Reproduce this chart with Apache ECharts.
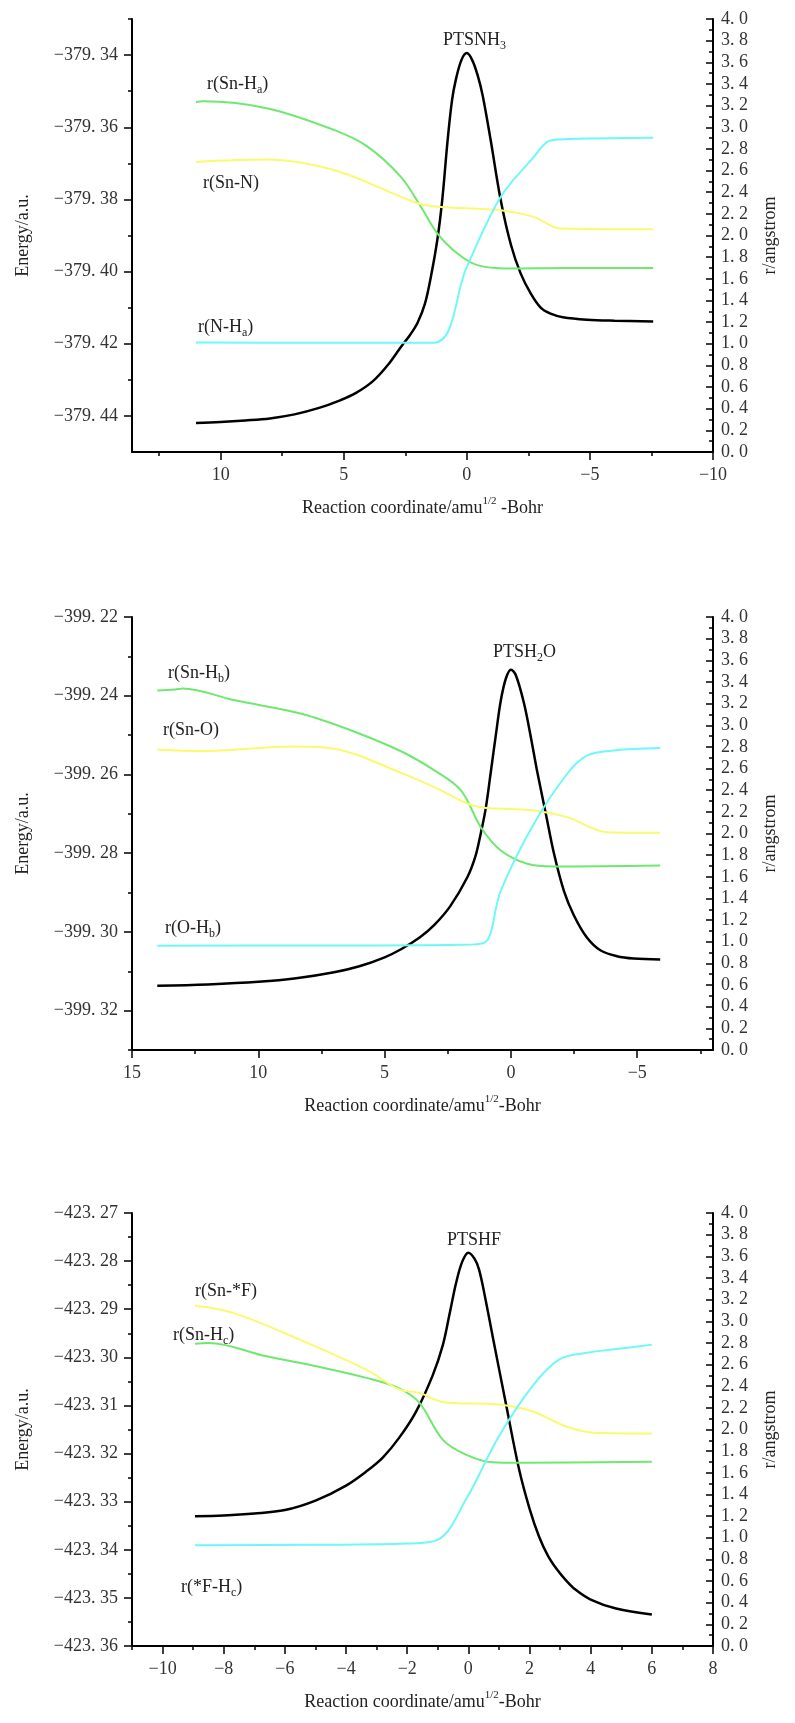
<!DOCTYPE html>
<html>
<head>
<meta charset="utf-8">
<script src="https://cdn.jsdelivr.net/npm/echarts@6/dist/echarts.min.js"></script>
<style>
html, body { margin: 0; padding: 0; background: #fff; }
#chart { width: 795px; height: 1723px; }
</style>
</head>
<body>
<div id="chart"></div>
<script>
// ---- panel 1 : PTSNH3 ----
var p1Energy = [[11.0, -379.44194], [10.0, -379.44167], [9.0, -379.44125], [8.0, -379.44069], [7.0, -379.43958], [6.0, -379.43778],
  [5.2, -379.43583], [4.5, -379.43361], [3.8, -379.43028], [3.2, -379.42583], [2.67, -379.42083], [2.3, -379.41750],
  [2.0, -379.41417], [1.7, -379.40889], [1.45, -379.40111], [1.19, -379.39083], [1.0, -379.38028], [0.78, -379.36361],
  [0.6, -379.35250], [0.45, -379.34694], [0.22, -379.34139], [0, -379.33944], [-0.22, -379.34139], [-0.45, -379.34583],
  [-0.65, -379.35139], [-0.97, -379.36361], [-1.38, -379.38028], [-1.8, -379.39278], [-2.19, -379.40056],
  [-2.6, -379.40611], [-3.0, -379.41000], [-3.4, -379.41167], [-3.9, -379.41264], [-4.88, -379.41333], [-6.0, -379.41361],
  [-7.57, -379.41381]];
var p1SnH = [[11.0, 3.234], [10.7, 3.24], [8.08, 3.174], [5.37, 2.973], [4.02, 2.819], [2.67, 2.54], [1.86, 2.264], [1.19, 2.018],
  [0.38, 1.834], [-0.43, 1.726], [-1.65, 1.695], [-4.0, 1.70], [-7.57, 1.70]];
var p1SnN = [[11.0, 2.68], [8.08, 2.702], [5.37, 2.603], [2.67, 2.357], [1.86, 2.289], [1.05, 2.264], [-1.38, 2.234],
  [-2.72, 2.172], [-3.81, 2.065], [-7.57, 2.058]];
var p1NH = [[11.0, 1.011], [6.0, 1.01], [1.34, 1.01], [0, 1.71], [-1.38, 2.357], [-2.72, 2.726], [-3.27, 2.865], [-3.8, 2.887],
  [-7.57, 2.902]];
var p1XTicks = [10, 5, 0, -5, -10];
var p1XMinor = [12.5, 7.5, 2.5, -2.5, -7.5];
var p1ETicks = [-379.44, -379.42, -379.40, -379.38, -379.36, -379.34];
var p1EMinor = [-379.43, -379.41, -379.39, -379.37, -379.35, -379.33];

// ---- panel 2 : PTSH2O ----
var p2Energy = [[14.0, -399.31366], [12.0, -399.31333], [10.0, -399.31269], [8.5, -399.31180], [7.0, -399.31027], [6.0, -399.30874],
  [5.0, -399.30645], [4.35, -399.30441], [3.6, -399.30135], [3.04, -399.29829], [2.4, -399.29345], [1.72, -399.28606],
  [1.4, -399.28071], [1.19, -399.27485], [1.0, -399.26874], [0.8, -399.25957], [0.6, -399.25014], [0.4, -399.24122],
  [0.2, -399.23562], [0, -399.23340], [-0.2, -399.23485], [-0.52, -399.24199], [-0.8, -399.25091], [-1.05, -399.25957],
  [-1.4, -399.27053], [-1.7, -399.27995], [-2.1, -399.28963], [-2.49, -399.29575], [-3.0, -399.30135], [-3.54, -399.30466],
  [-4.2, -399.30619], [-4.86, -399.30678], [-5.91, -399.30703]];
var p2SnH = [[14.0, 3.32], [13.3, 3.33], [13.0, 3.34], [10.93, 3.23], [8.29, 3.107], [6.32, 2.952], [4.35, 2.76], [3.03, 2.583],
  [1.98, 2.398], [1.19, 2.058], [0.4, 1.843], [-0.65, 1.72], [-1.70, 1.695], [-5.91, 1.704]];
var p2SnO = [[14.0, 2.777], [12.24, 2.761], [8.56, 2.804], [6.98, 2.783], [4.35, 2.56], [3.03, 2.428], [1.72, 2.275], [1.06, 2.238],
  [-0.91, 2.213], [-2.23, 2.151], [-3.81, 2.012], [-5.91, 2.006]];
var p2OH = [[14.0, 0.964], [8.0, 0.965], [2.0, 0.972], [1.06, 0.99], [0.4, 1.473], [-0.91, 2.09], [-2.23, 2.552], [-3.02, 2.721],
  [-4.07, 2.767], [-5.91, 2.789]];
var p2XTicks = [15, 10, 5, 0, -5];
var p2XMinor = [12.5, 7.5, 2.5, -2.5, -7.5];
var p2ETicks = [-399.32, -399.30, -399.28, -399.26, -399.24, -399.22];
var p2EMinor = [-399.33, -399.31, -399.29, -399.27, -399.25, -399.23];

// ---- panel 3 : PTSHF ----
var p3Energy = [[-8.94, -423.33304], [-8.0, -423.33289], [-7.0, -423.33248], [-6.0, -423.33175], [-5.0, -423.32978],
  [-4.0, -423.32666], [-3.3, -423.32354], [-2.8, -423.32084], [-2.26, -423.31669], [-1.71, -423.31128], [-1.17, -423.30380],
  [-0.84, -423.29757], [-0.6, -423.29051], [-0.4, -423.28450], [-0.2, -423.28011], [0, -423.27825], [0.2, -423.27950],
  [0.35, -423.28178], [0.55, -423.28760], [0.79, -423.29549], [1.22, -423.30941], [1.66, -423.32333], [2.0, -423.33144],
  [2.31, -423.33725], [2.6, -423.34120], [2.9, -423.34411], [3.2, -423.34640], [3.5, -423.34827], [4.0, -423.35035],
  [4.83, -423.35222], [6.0, -423.35346]];
var p3SnH = [[-8.94, 2.793], [-8.5, 2.8], [-6.6, 2.676], [-4.97, 2.584], [-3.34, 2.477], [-2.26, 2.38], [-1.6, 2.246], [-0.84, 1.907],
  [-0.08, 1.768], [0.79, 1.697], [1.66, 1.692], [6.0, 1.701]];
var p3SnF = [[-8.94, 3.144], [-7.69, 3.077], [-5.51, 2.83], [-3.34, 2.553], [-2.26, 2.37], [-1.6, 2.338], [-0.84, 2.255], [1.0, 2.23],
  [2.09, 2.168], [3.18, 2.03], [4.15, 1.969], [6.0, 1.962]];
var p3FH = [[-8.94, 0.931], [-5.0, 0.935], [-2.0, 0.946], [-0.99, 0.983], [-0.08, 1.353], [1.0, 1.937], [2.09, 2.399], [2.96, 2.645],
  [3.83, 2.707], [4.7, 2.738], [6.0, 2.784]];
var p3XTicks = [-10, -8, -6, -4, -2, 0, 2, 4, 6, 8];
var p3XMinor = [-11, -9, -7, -5, -3, -1, 1, 3, 5, 7];
var p3ETicks = [-423.36, -423.35, -423.34, -423.33, -423.32, -423.31, -423.30, -423.29, -423.28, -423.27];
var p3EMinor = [-423.355, -423.345, -423.335, -423.325, -423.315, -423.305, -423.295, -423.285, -423.275];

var FONT = 'Liberation Serif';
var GREEN = '#6fe86f', YELLOW = '#fafa6e', CYAN = '#6ff8f8';

var panels = [
  { top: 19, xMin: -10, xMax: 13.6, inverse: true, xTicks: p1XTicks, xMinor: p1XMinor,
    eMin: -379.45, eMax: -379.33, eTicks: p1ETicks, eMinor: p1EMinor,
    xName: 'Reaction coordinate/amu{sup|1/2} -Bohr',
    lines: [[p1Energy, '#000'], [p1SnH, GREEN], [p1SnN, YELLOW], [p1NH, CYAN]] },
  { top: 617, xMin: -8, xMax: 15, inverse: true, xTicks: p2XTicks, xMinor: p2XMinor,
    eMin: -399.33, eMax: -399.22, eTicks: p2ETicks, eMinor: p2EMinor,
    xName: 'Reaction coordinate/amu{sup|1/2}-Bohr',
    lines: [[p2Energy, '#000'], [p2SnH, GREEN], [p2SnO, YELLOW], [p2OH, CYAN]] },
  { top: 1213, xMin: -11, xMax: 8, inverse: false, xTicks: p3XTicks, xMinor: p3XMinor,
    eMin: -423.36, eMax: -423.27, eTicks: p3ETicks, eMinor: p3EMinor,
    xName: 'Reaction coordinate/amu{sup|1/2}-Bohr',
    lines: [[p3Energy, '#000'], [p3SnH, GREEN], [p3SnF, YELLOW], [p3FH, CYAN]] }
];

function fmtE(v) { return v.toFixed(2).replace('-', '\u2212').replace('.', '. '); }
function fmtR(v) { return v.toFixed(1).replace('.', '. '); }
function fmtX(v) { return String(v).replace('-', '\u2212'); }

var grid = [], xAxis = [], yAxis = [], series = [];
var axisLine = { show: true, onZero: false, lineStyle: { color: '#000', width: 2 } };
var hiddenLine = { show: false, onZero: false };
var tickLabel = { fontFamily: FONT, fontSize: 18, color: '#333' };
var nameStyle = { fontFamily: FONT, fontSize: 18, color: '#222' };

panels.forEach(function (p, i) {
  // main grid and an overlay grid (same rect) for the minor ticks
  grid.push({ left: 132, right: 82, top: p.top, height: 433 });
  grid.push({ left: 132, right: 82, top: p.top, height: 433 });

  xAxis.push({
    type: 'value', gridIndex: 2 * i, min: p.xMin, max: p.xMax, inverse: p.inverse, position: 'bottom',
    axisLine: axisLine, splitLine: { show: false },
    axisTick: { show: true, length: 8, customValues: p.xTicks, lineStyle: { color: '#000', width: 1.5 } },
    axisLabel: Object.assign({ margin: 14, customValues: p.xTicks, formatter: fmtX }, tickLabel),
    name: p.xName, nameLocation: 'middle', nameGap: 44,
    nameTextStyle: Object.assign({ lineHeight: 24, rich: {
      sup: { fontFamily: FONT, fontSize: 11, color: '#222', verticalAlign: 'top', lineHeight: 24 }
    } }, nameStyle)
  });
  xAxis.push({
    type: 'value', gridIndex: 2 * i + 1, min: p.xMin, max: p.xMax, inverse: p.inverse, position: 'bottom',
    axisLine: hiddenLine, splitLine: { show: false }, axisLabel: { show: false },
    axisTick: { show: true, length: 4, customValues: p.xMinor, lineStyle: { color: '#000', width: 1.5 } }
  });

  yAxis.push({
    type: 'value', gridIndex: 2 * i, min: p.eMin, max: p.eMax, position: 'left',
    axisLine: axisLine, splitLine: { show: false },
    axisTick: { show: true, length: 8, customValues: p.eTicks, lineStyle: { color: '#000', width: 1.5 } },
    axisLabel: Object.assign({ margin: 14, customValues: p.eTicks, formatter: fmtE }, tickLabel),
    name: 'Energy/a.u.', nameLocation: 'middle', nameGap: 100, nameTextStyle: nameStyle
  });
  yAxis.push({
    type: 'value', gridIndex: 2 * i, min: 0, max: 4, interval: 0.2, position: 'right',
    axisLine: axisLine, splitLine: { show: false },
    axisTick: { show: true, inside: true, length: 7, lineStyle: { color: '#000', width: 1.5 } },
    minorTick: { show: true, splitNumber: 2, length: 4, lineStyle: { color: '#000', width: 1.5 } },
    axisLabel: Object.assign({ margin: 8, formatter: fmtR }, tickLabel),
    name: 'r/angstrom', nameLocation: 'middle', nameGap: 48, nameRotate: 90, nameTextStyle: nameStyle
  });
  yAxis.push({
    type: 'value', gridIndex: 2 * i + 1, min: p.eMin, max: p.eMax, position: 'left',
    axisLine: hiddenLine, splitLine: { show: false }, axisLabel: { show: false },
    axisTick: { show: true, length: 4, customValues: p.eMinor, lineStyle: { color: '#000', width: 1.5 } }
  });

  p.lines.forEach(function (l, k) {
    series.push({
      type: 'line', xAxisIndex: 2 * i, yAxisIndex: k === 0 ? 3 * i : 3 * i + 1,
      data: l[0], showSymbol: false, symbol: 'none', smooth: 0.35,
      lineStyle: { color: l[1], width: k === 0 ? 2.5 : 2 }
    });
  });
  // overlay grid needs a series to exist
  series.push({ type: 'line', xAxisIndex: 2 * i + 1, yAxisIndex: 3 * i + 2, data: [], showSymbol: false });
});

// curve labels
var subRich = {
  s: { fontFamily: FONT, fontSize: 12, fill: '#222', verticalAlign: 'bottom', lineHeight: 24 }
};
function note(x, y, text) {
  return {
    type: 'text', x: x, y: y, silent: true,
    style: { text: text, fontFamily: FONT, fontSize: 18, fill: '#222', lineHeight: 24, verticalAlign: 'middle', rich: subRich }
  };
}
var graphic = [
  note(207, 84, 'r(Sn-H{s|a})'), note(203, 183, 'r(Sn-N)'), note(198, 327, 'r(N-H{s|a})'), note(443, 40, 'PTSNH{s|3}'),
  note(168, 673, 'r(Sn-H{s|b})'), note(163, 730, 'r(Sn-O)'), note(165, 928, 'r(O-H{s|b})'), note(493, 652, 'PTSH{s|2}O'),
  note(195, 1291, 'r(Sn-*F)'), note(173, 1335, 'r(Sn-H{s|c})'), note(181, 1587, 'r(*F-H{s|c})'), note(447, 1240, 'PTSHF')
];

var chart = echarts.init(document.getElementById('chart'));
var option = {
  backgroundColor: '#fff',
  animation: false,
  grid: grid,
  xAxis: xAxis,
  yAxis: yAxis,
  series: series,
  graphic: graphic
};
chart.setOption(option);
</script>
</body>
</html>
